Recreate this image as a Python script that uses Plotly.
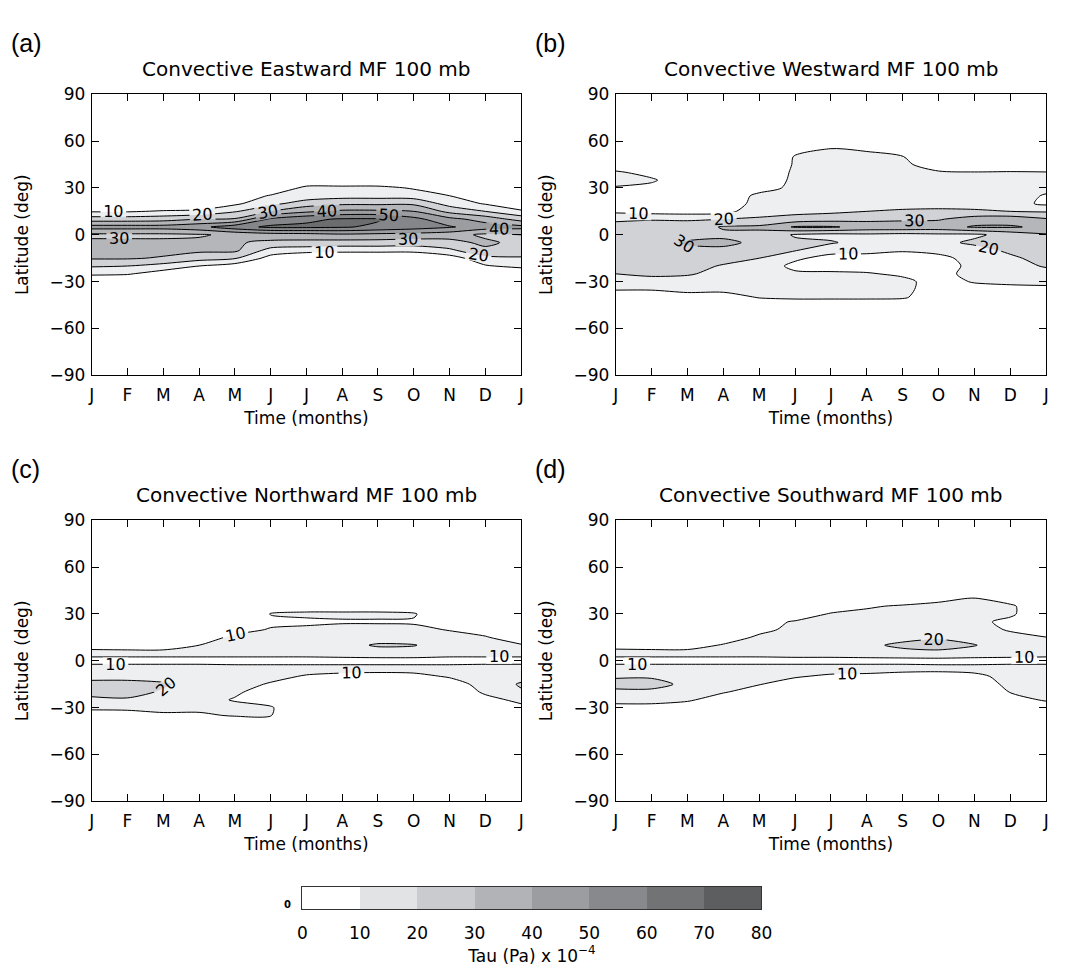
import plotly.graph_objects as go

# ---------------- data ----------------
MONTHS = ["J", "F", "M", "A", "M", "J", "J", "A", "S", "O", "N", "D", "J"]
TIME = list(range(13))
LAT = [-45, -40, -35, -30, -25, -20, -15, -10, -5, 0, 5, 10, 15, 20, 25, 30, 35, 40, 45, 50, 55, 60]
LAT_TICKS = [-90, -60, -30, 0, 30, 60, 90]
LEVELS = [0, 10, 20, 30, 40, 50, 60, 70, 80]
GRAYS = ["#ffffff", "#e2e3e5", "#cacbce", "#b2b3b6", "#9c9da0", "#88898c", "#727375", "#5d5e60"]
TITLES = ["Convective Eastward MF 100 mb", "Convective Westward MF 100 mb",
          "Convective Northward MF 100 mb", "Convective Southward MF 100 mb"]
LETTERS = ["(a)", "(b)", "(c)", "(d)"]

Z0 = [0] * 13

# rows = latitude (LAT order), columns = month index (J..J)
Z_EAST = [
    Z0, Z0, Z0, Z0,
    [12, 11, 5, 0, 0, 0, 0, 0, 0, 0, 0, 0, 0],
    [21, 20, 16, 10, 5, 0, 0, 0, 0, 0, 0, 9, 13],
    [31, 31, 29, 24, 21, 6, 0, 0, 0, 0, 5, 17, 18],
    [34, 34, 33, 32, 32, 16, 14, 13, 13, 13, 18, 28, 30],
    [32, 32, 32, 32, 31, 28, 27, 26, 26, 25, 27, 32, 27],
    [28, 28, 28, 29, 32, 35, 36, 38, 37, 36, 34, 28, 30],
    [44, 44, 44, 47, 56, 62, 62, 61, 58, 55, 51, 45, 43],
    [25, 25, 26, 30, 31, 52, 58, 61, 61, 53, 43, 36, 26],
    [9, 9, 11, 12, 19, 30, 38, 42, 42, 40, 27, 20, 12],
    [0, 0, 0, 2, 8, 17, 25, 28, 28, 28, 16, 9, 0],
    [0, 0, 0, 0, 2, 11, 14, 16, 16, 15, 10, 0, 0],
    [0, 0, 0, 0, 0, 0, 13, 13, 13, 9, 0, 0, 0],
    Z0, Z0, Z0, Z0, Z0, Z0,
]

Z_WEST = [
    Z0,
    [0, 0, 4, 3, 11, 13, 13, 13, 12, 0, 0, 0, 0],
    [11, 11, 14, 14, 14, 14, 15, 15, 14, 2, 5, 7, 8],
    [14, 18, 16, 17, 15, 14, 14, 14, 13, 5, 11, 12, 12],
    [20, 21, 21, 17, 16, 12, 12, 11, 8, 7, 13, 14, 16],
    [22, 23, 24, 19, 17, 7, 5, 5, 4, 5, 13, 16, 21],
    [24, 25, 25, 24, 20, 12, 6, 6, 5, 7, 14, 18, 24],
    [25, 26, 28, 28, 25, 20.5, 14, 13, 11, 13, 16, 22, 26],
    [27, 27, 31, 32, 28, 22, 21, 16, 15, 17, 22, 23, 27],
    [26, 28, 27, 28, 27, 19, 17, 18, 17, 18, 18, 24, 29],
    [24, 26, 24, 31, 32, 41, 41, 37, 37, 36, 41, 41, 38],
    [18, 19, 19, 20, 21, 24, 26, 27, 28, 29, 35, 36, 31],
    [8, 6, 5, 6, 17, 17, 18, 20, 21, 22, 21, 20, 19],
    [3, 2, 1, 1, 15, 15, 16, 16, 17, 16, 17, 14, 8],
    [3, 2, 1, 1, 13, 14, 15, 15, 16, 15, 15, 15, 9],
    [9, 6, 3, 2, 5, 13, 15, 15, 15, 14, 14, 14, 13],
    [14, 12, 0, 0, 0, 13, 14, 14, 14, 13, 13, 13, 13],
    [12, 5, 0, 0, 0, 12, 13, 14, 13, 11, 10.5, 11, 10.5],
    [0, 0, 0, 0, 0, 11, 13, 13, 12, 5, 0, 0, 0],
    [0, 0, 0, 0, 0, 11, 12, 12, 10.5, 0, 0, 0, 0],
    [0, 0, 0, 0, 0, 0, 10.5, 9, 0, 0, 0, 0, 0],
    Z0,
]

Z_NORTH = [
    Z0, Z0,
    [0, 0, 7, 8, 11, 10.5, 0, 0, 0, 0, 0, 0, 0],
    [14, 15, 15, 13, 14, 11, 0, 0, 0, 0, 0, 0, 7],
    [18, 19, 17, 15, 9, 6, 0, 0, 0, 0, 0, 6, 13],
    [23, 23, 19, 16, 12, 4, 0, 0, 0, 0, 0, 12, 19],
    [22, 22, 21, 17, 14, 9, 3, 2, 2, 3, 5, 14, 21],
    [18, 18, 17, 16, 15, 13, 9, 7, 6, 7, 11, 15, 17],
    [15, 15, 15, 15, 14, 14, 14, 14, 14, 14, 14, 15, 15],
    [6, 6, 6, 6, 6, 6, 6, 6, 6, 6, 6, 6, 6],
    [14, 14, 14, 14, 14, 14, 14, 15, 16, 16, 14, 14, 14],
    [5, 4, 4, 10, 15, 16, 16, 17, 21, 20.5, 15, 14, 11],
    [0, 0, 0, 3, 13, 15, 15, 15, 16, 15, 13, 11, 3],
    [0, 0, 0, 0, 5, 11, 12, 13, 13, 12, 9.5, 5, 0],
    [0, 0, 0, 0, 0, 7, 8, 9, 9, 9, 3, 0, 0],
    [0, 0, 0, 0, 0, 10.5, 12, 12, 12, 11, 0, 0, 0],
    [0, 0, 0, 0, 0, 3, 4, 4, 4, 3, 0, 0, 0],
    Z0, Z0, Z0, Z0, Z0,
]

Z_SOUTH = [
    Z0, Z0, Z0,
    [4, 4, 2, 0, 0, 0, 0, 0, 0, 0, 0, 0, 0],
    [16, 16, 12, 3, 0, 0, 0, 0, 0, 0, 0, 3, 12],
    [18, 18, 16, 11, 4, 0, 0, 0, 0, 0, 0, 10.5, 14],
    [23, 23, 18, 14, 10.5, 5, 3, 2, 2, 2, 3, 13, 15],
    [19, 19, 17, 15, 14, 11, 8, 7, 4, 4, 7, 14, 15],
    [15, 15, 15, 15, 15, 15, 15, 15, 15, 14, 14, 15, 15],
    [6, 6, 6, 6, 6, 6, 6, 6, 6, 6, 6, 6, 6],
    [14, 14, 14, 14, 14, 15, 15, 16, 17, 18, 16, 15, 14],
    [6, 5, 5, 11, 14, 15, 16, 18, 22, 23, 20.5, 14, 13],
    [0, 0, 0, 4, 12, 14, 15, 15, 17, 19, 16, 13, 10.2],
    [0, 0, 0, 0, 7, 13, 14, 14, 14, 14, 14, 9, 5],
    [0, 0, 0, 0, 6, 11, 13, 13, 13, 13, 13, 7, 0],
    [0, 0, 0, 0, 0, 3, 11, 12, 12, 12, 13, 12, 0],
    [0, 0, 0, 0, 0, 0, 3, 9, 11, 12, 12, 12, 0],
    [0, 0, 0, 0, 0, 0, 0, 0, 4, 8, 10.5, 4, 0],
    Z0, Z0, Z0, Z0,
]

# ---------------- styling ----------------
FONT = "DejaVu Sans"
W, H = 1068, 971

# contour fill colours are evaluated at band mid-points (5, 15, ... 85)
n = len(GRAYS)
CONTOUR_CS = [[k / n, GRAYS[k]] for k in range(n)] + [[1.0, GRAYS[-1]]]
HEAT_CS = []
for k in range(n):
    HEAT_CS.append([k / n, GRAYS[k]])
    HEAT_CS.append([(k + 1) / n, GRAYS[k]])

# pixel boxes of the four panels (left, right, top, bottom)
BOXES = [(88, 524, 86, 373), (620, 1057, 86, 373), (88, 524, 521, 808), (620, 1057, 521, 808)]

fig = go.Figure()
layout = dict(width=W, height=H, margin=dict(l=0, r=0, t=0, b=0),
              paper_bgcolor="white", plot_bgcolor="white", showlegend=False,
              font=dict(family=FONT, color="black"))
annotations = []

for i, (z, box) in enumerate(zip([Z_EAST, Z_WEST, Z_NORTH, Z_SOUTH], BOXES)):
    sfx = "" if i == 0 else str(i + 1)
    l, r, t, b = box
    fig.add_trace(go.Contour(
        x=TIME, y=LAT, z=z, xaxis="x" + sfx, yaxis="y" + sfx,
        zmin=0, zmax=80, autocontour=False,
        contours=dict(start=10, end=80, size=10, coloring="fill", showlabels=True,
                      labelfont=dict(family=FONT, size=16, color="black")),
        colorscale=CONTOUR_CS, showscale=False,
        line=dict(color="black", width=1, smoothing=0.8),
        hoverinfo="skip"))
    common = dict(showline=True, linecolor="black", linewidth=1, mirror="ticks",
                  ticks="inside", ticklen=7, tickcolor="black", tickwidth=1,
                  showgrid=False, zeroline=False,
                  tickfont=dict(family=FONT, size=17, color="black"))
    layout["xaxis" + sfx] = dict(common, domain=[l / W, r / W], anchor="y" + sfx,
                                 range=[0, 12], tickvals=TIME, ticktext=MONTHS,
                                 ticklabelstandoff=4,
                                 title=dict(text="Time (months)", standoff=8,
                                            font=dict(family=FONT, size=17)))
    layout["yaxis" + sfx] = dict(common, domain=[1 - b / H, 1 - t / H], anchor="x" + sfx,
                                 range=[-90, 90], tickvals=LAT_TICKS,
                                 ticktext=[str(v).replace("-", "\u2212") for v in LAT_TICKS],
                                 ticklabelstandoff=2,
                                 title=dict(text="Latitude (deg)", standoff=16,
                                            font=dict(family=FONT, size=17)))
    annotations.append(dict(text=TITLES[i], x=(l + r) / 2 / W, y=1 - (t - 26) / H,
                            xref="paper", yref="paper", showarrow=False,
                            xanchor="center", yanchor="middle",
                            font=dict(family=FONT, size=20, color="black")))
    annotations.append(dict(text=LETTERS[i], x=(l - 84) / W, y=1 - (t - 52) / H,
                            xref="paper", yref="paper", showarrow=False,
                            xanchor="left", yanchor="middle",
                            font=dict(family="Liberation Sans", size=25, color="black")))

# colour bar drawn as a heatmap on its own axes
mids = [(LEVELS[k] + LEVELS[k + 1]) / 2 for k in range(len(LEVELS) - 1)]
fig.add_trace(go.Heatmap(x=mids, y=[0], z=[mids], xaxis="x5", yaxis="y5",
                         colorscale=HEAT_CS, zmin=0, zmax=80, showscale=False,
                         hoverinfo="skip"))
layout["xaxis5"] = dict(domain=[302 / W, 768 / W], anchor="y5", range=[0, 80],
                        tickvals=LEVELS, ticktext=[str(v) for v in LEVELS], ticks="",
                        ticklabelstandoff=9,
                        showline=True, mirror=True, linecolor="#333333", linewidth=1,
                        showgrid=False, zeroline=False,
                        tickfont=dict(family=FONT, size=17, color="black"),
                        title=dict(text="Tau (Pa) x 10<sup>\u22124</sup>", standoff=2,
                                   font=dict(family=FONT, size=17)))
layout["yaxis5"] = dict(domain=[1 - 918 / H, 1 - 895 / H], anchor="x5", range=[-0.5, 0.5],
                        showticklabels=False, ticks="", showline=True, mirror=True,
                        linecolor="#333333", linewidth=1, showgrid=False, zeroline=False)
annotations.append(dict(text="<b>0</b>", x=287 / W, y=1 - 913 / H, xref="paper", yref="paper",
                        showarrow=False, xanchor="center", yanchor="middle",
                        font=dict(family=FONT, size=10, color="black")))

layout["annotations"] = annotations
fig.update_layout(**layout)
fig.write_html("out.html")
